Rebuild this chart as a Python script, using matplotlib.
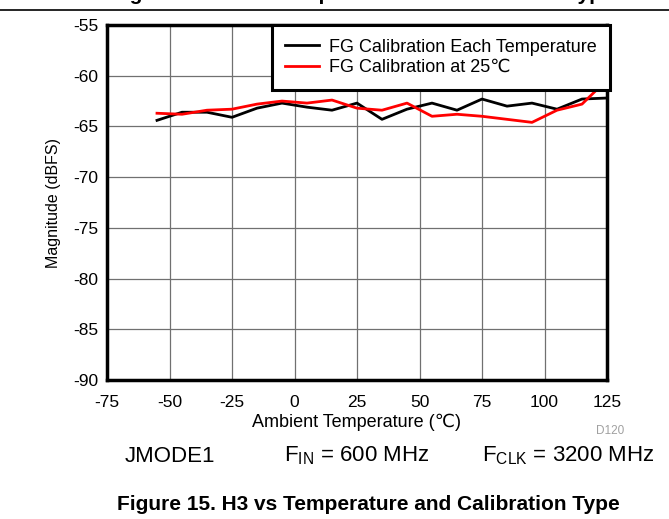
import matplotlib
matplotlib.use("Agg")
import matplotlib.pyplot as plt
from matplotlib.lines import Line2D

plt.rcParams['font.family'] = ['Liberation Sans', 'DejaVu Sans']
plt.rcParams['mathtext.fontset'] = 'custom'
plt.rcParams['mathtext.rm'] = 'Liberation Sans'
plt.rcParams['mathtext.it'] = 'Liberation Sans'
plt.rcParams['axes.unicode_minus'] = False

# Ambient temperature sweep (°C)
temperature = [-55, -45, -35, -25, -15, -5, 5, 15, 25, 35, 45, 55, 65, 75, 85, 95, 105, 115, 125]

# H3 magnitude (dBFS)
h3_each_temp = [-64.4, -63.6, -63.6, -64.1, -63.2, -62.7, -63.1, -63.4, -62.7, -64.3,
                -63.3, -62.7, -63.4, -62.3, -63.0, -62.7, -63.3, -62.3, -62.2]
h3_cal_25c = [-63.7, -63.8, -63.4, -63.3, -62.8, -62.5, -62.7, -62.4, -63.2, -63.4,
              -62.7, -64.0, -63.8, -64.0, -64.3, -64.6, -63.4, -62.8, -60.4]

series_labels = ["FG Calibration Each Temperature", "FG Calibration at 25\u2103"]
x_ticks = [-75, -50, -25, 0, 25, 50, 75, 100, 125]
y_ticks = [-90, -85, -80, -75, -70, -65, -60, -55]

fig = plt.figure(figsize=(6.69, 5.19), dpi=100)
ax = fig.add_axes([107 / 669, 1 - 380 / 519, 500 / 669, 355 / 519])

ax.plot(temperature, h3_each_temp, color='black', lw=2.0, label=series_labels[0], zorder=3)
ax.plot(temperature, h3_cal_25c, color='#ff0000', lw=2.0, label=series_labels[1], zorder=3)

ax.set_xlim(-75, 125)
ax.set_ylim(-90, -55)
ax.set_xticks(x_ticks)
ax.set_yticks(y_ticks)
ax.tick_params(length=0, labelsize=12.5, colors='black')
ax.tick_params(axis='x', pad=10.5)
ax.tick_params(axis='y', pad=6)
ax.grid(True, color='#707070', lw=0.9, zorder=1)
for sp in ax.spines.values():
    sp.set_linewidth(2.5)
    sp.set_color('black')

ax.set_xlabel("Ambient Temperature (\u2103)", fontsize=13, labelpad=3)
ax.set_ylabel("Magnitude (dBFS)", fontsize=11.5, labelpad=9)

leg = ax.legend(loc='upper right', bbox_to_anchor=(1.006, 1.0), borderaxespad=0,
                fontsize=13, handlelength=1.85, handletextpad=0.55,
                labelspacing=0.2, borderpad=0.75, fancybox=False, framealpha=1,
                edgecolor='black')
leg.get_frame().set_linewidth(2.2)
leg.set_zorder(5)

# footnote and conditions
fig.text(610 / 669, 1 - 431 / 519, "D120", fontsize=8.5, color='#a0a0a0', ha='center', va='center')
fig.text(170 / 669, 1 - 456 / 519, "JMODE1", fontsize=16, ha='center', va='center')
fig.text(357 / 669, 1 - 456 / 519, r"F$_{\mathrm{IN}}$ = 600 MHz", fontsize=16, ha='center', va='center')
fig.text(568 / 669, 1 - 456 / 519, r"F$_{\mathrm{CLK}}$ = 3200 MHz", fontsize=16, ha='center', va='center')

fig.text(368 / 669, 1 - 505 / 519, "Figure 15. H3 vs Temperature and Calibration Type",
         fontsize=15, fontweight='bold', ha='center', va='center')

# preceding caption and separator rule at the top edge
fig.text(362 / 669, 1.0, "Figure 14. H2 vs Temperature and Calibration Type",
         fontsize=15, fontweight='bold', ha='center', va='baseline')
fig.add_artist(Line2D([0, 1], [1 - 10 / 519, 1 - 10 / 519], color='black', lw=1.2,
                      transform=fig.transFigure))

fig.savefig("out.png", dpi=100)
